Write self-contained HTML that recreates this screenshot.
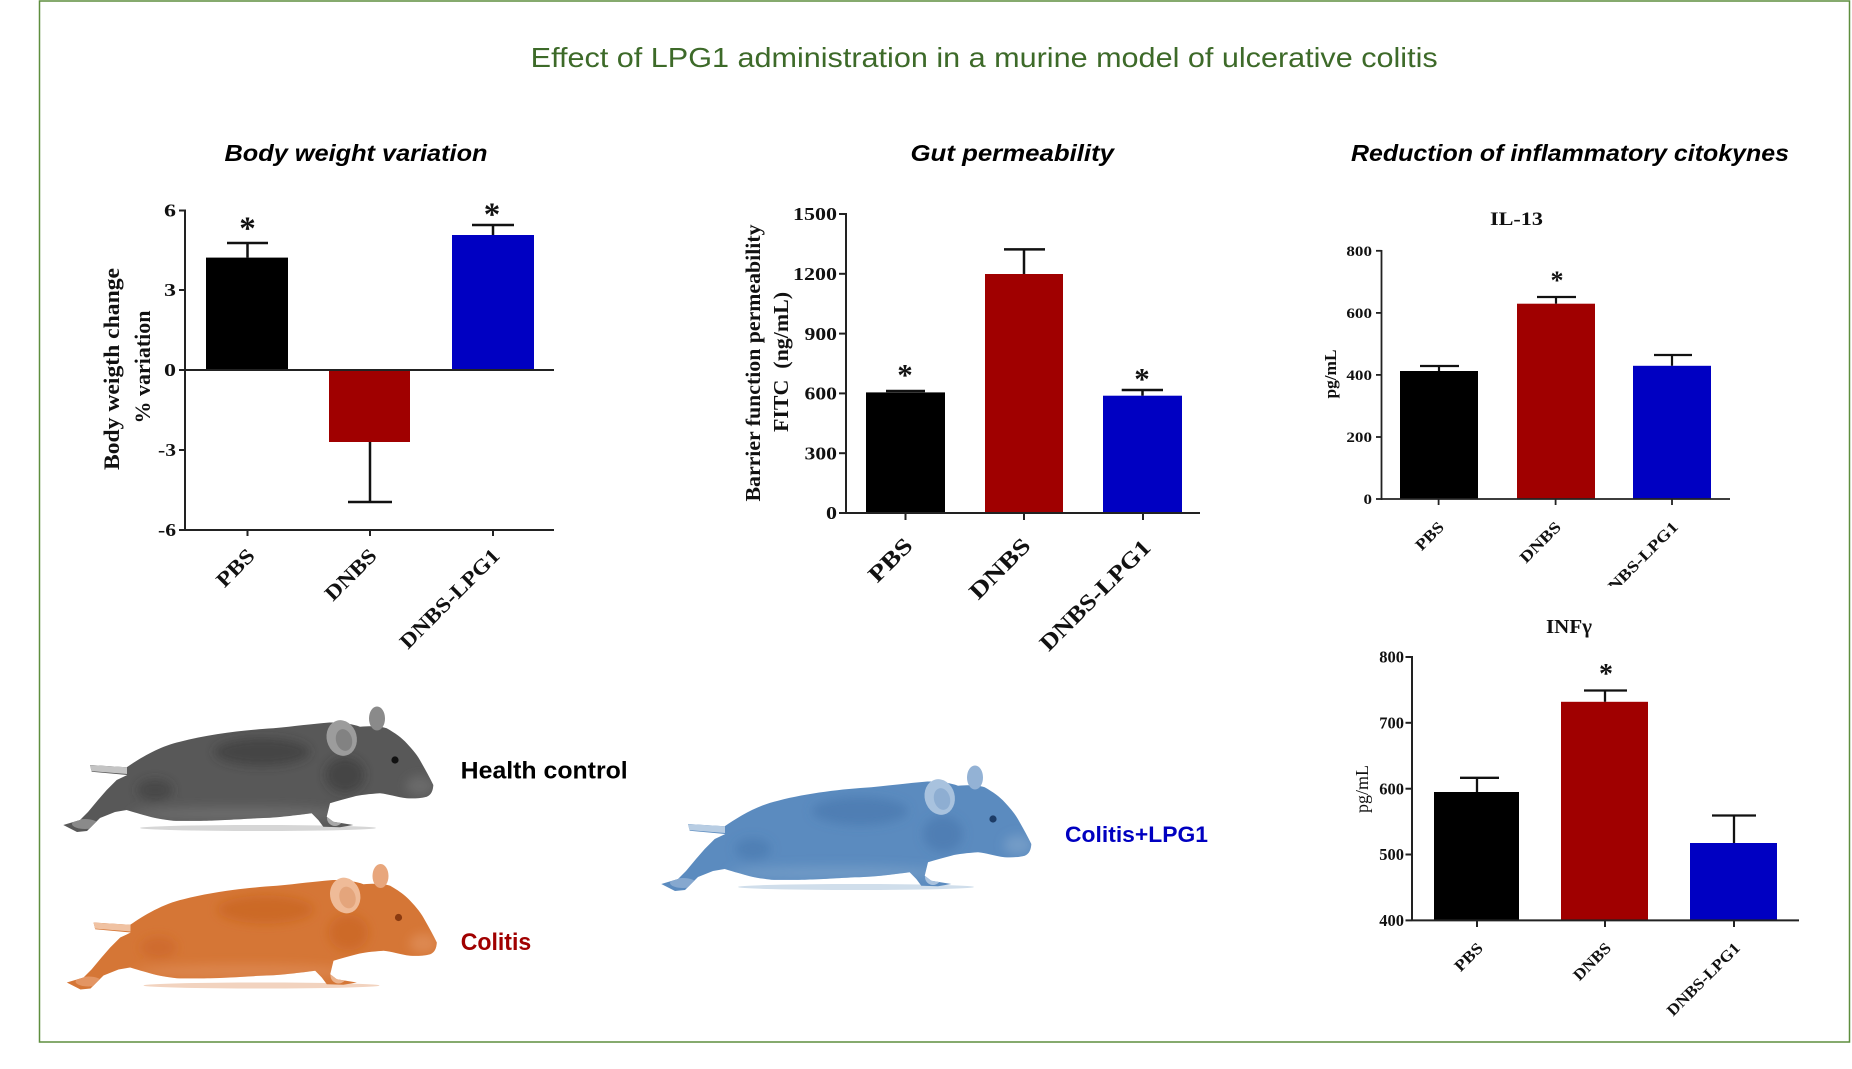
<!DOCTYPE html>
<html><head><meta charset="utf-8"><style>
html,body{margin:0;padding:0;background:#fff;}
svg{display:block;}
.ser{font-family:"Liberation Serif","Times New Roman",serif;font-weight:bold;}
.sans{font-family:"Liberation Sans",Arial,sans-serif;}
</style></head><body>
<svg width="1852" height="1069" viewBox="0 0 1852 1069" xmlns="http://www.w3.org/2000/svg">
<defs>
<path id="mouse" d="M90,765 L126.7,767.3 C140,758 160,746 180,741.7 C210,734 245,730 273.3,728.3 C295,726 312,724 326.7,722.7 C340,722 352,724 360,726.7 C372,726 380,726 386.7,728.3 C395,733 402,738 406.7,743.3 C413,750 418,756 421.7,763.3 C426,771 430,778 433.3,785 C433,791 431,795 426.7,796.7 C420,798.5 413,798.5 406.7,798.3 C396,797 388,794 380,793.3 C370,794 360,795 353.3,796.7 C345,799 337,801 330,803.3 L326.7,816.7 L333.3,821.7 L353.3,825 L340,827.3 L323.3,826.7 L318.3,820 L311.7,813.3 C290,816 275,818 256.7,818.3 C235,819.5 220,820.5 206.7,820.7 C190,821 180,821 173.3,820.7 C162,819.5 155,818 150,816.7 C140,814 133,812 126.7,810 L115,812 L100,818 L92,826 L87,831 L77,832 L63.3,825 L80,820 L88,812 L98,800 L106.7,790 L116.7,780 L127.3,775 L91.7,771.7 Z"/>
<clipPath id="mclip" clipPathUnits="userSpaceOnUse"><use href="#mouse"/></clipPath>
<clipPath id="il13clip" clipPathUnits="userSpaceOnUse"><rect x="1300" y="500" width="500" height="86"/></clipPath>
<filter id="soft" x="-20%" y="-20%" width="140%" height="140%"><feGaussianBlur stdDeviation="5"/></filter>
</defs>

<rect x="0" y="0" width="1852" height="1069" fill="#fff"/>
<rect x="39.5" y="1" width="1810" height="1041" fill="none" stroke="#5e8e3e" stroke-width="1.5"/>

<!-- Main title -->
<text class="sans" x="530.7" y="67" font-size="28" fill="#3d6a29" textLength="907" lengthAdjust="spacingAndGlyphs">Effect of LPG1 administration in a murine model of ulcerative colitis</text>

<!-- Section titles -->
<g class="sans" font-weight="bold" font-style="italic" font-size="23" fill="#000">
<text x="224.5" y="161" textLength="263" lengthAdjust="spacingAndGlyphs">Body weight variation</text>
<text x="910.5" y="161" textLength="203.5" lengthAdjust="spacingAndGlyphs">Gut permeability</text>
<text x="1351" y="161" textLength="438" lengthAdjust="spacingAndGlyphs">Reduction of inflammatory citokynes</text>
</g>

<!-- ============ Chart 1: Body weight ============ -->
<g>
<rect x="206" y="257.6" width="82" height="112.4" fill="#000"/>
<rect x="329" y="370" width="81" height="72" fill="#a00000"/>
<rect x="452" y="235" width="82" height="135" fill="#0000c2"/>
<g stroke="#111" stroke-width="2.5" fill="none">
<line x1="247.5" y1="257.6" x2="247.5" y2="243"/><line x1="227" y1="243" x2="268" y2="243"/>
<line x1="370" y1="442" x2="370" y2="502"/><line x1="348" y1="502" x2="392" y2="502"/>
<line x1="493" y1="235" x2="493" y2="225"/><line x1="472" y1="225" x2="514" y2="225"/>
</g>
<g stroke="#222" stroke-width="2" fill="none">
<line x1="185" y1="209.5" x2="185" y2="531"/>
<line x1="179" y1="210.5" x2="185" y2="210.5"/><line x1="179" y1="290" x2="185" y2="290"/>
<line x1="179" y1="370" x2="185" y2="370"/><line x1="179" y1="450" x2="185" y2="450"/>
<line x1="179" y1="530" x2="185" y2="530"/>
<line x1="185" y1="370" x2="554" y2="370"/>
<line x1="185" y1="530" x2="554" y2="530"/>
<line x1="247.5" y1="530" x2="247.5" y2="536"/><line x1="370" y1="530" x2="370" y2="536"/><line x1="493" y1="530" x2="493" y2="536"/>
</g>
<g class="ser" font-size="18" fill="#111" text-anchor="end">
<text x="176" y="216.7" textLength="12" lengthAdjust="spacingAndGlyphs">6</text>
<text x="176" y="296.2" textLength="12" lengthAdjust="spacingAndGlyphs">3</text>
<text x="176" y="376.2" textLength="12" lengthAdjust="spacingAndGlyphs">0</text>
<text x="176" y="456.2" textLength="18" lengthAdjust="spacingAndGlyphs">-3</text>
<text x="176" y="536" textLength="18" lengthAdjust="spacingAndGlyphs">-6</text>
</g>
<g class="ser" font-size="33" fill="#111" text-anchor="middle">
<text x="247.5" y="239">*</text>
<text x="492" y="225">*</text>
</g>
<g class="ser" font-size="22" fill="#111" text-anchor="middle">
<text transform="translate(119,369) rotate(-90)" textLength="202" lengthAdjust="spacingAndGlyphs">Body weigth change</text>
<text transform="translate(150,367) rotate(-90)" textLength="113" lengthAdjust="spacingAndGlyphs">% variation</text>
</g>
<g class="ser" font-size="21" fill="#111" text-anchor="end">
<text transform="translate(256,557) rotate(-45)" textLength="44.5" lengthAdjust="spacingAndGlyphs">PBS</text>
<text transform="translate(378,557) rotate(-45)" textLength="63.6" lengthAdjust="spacingAndGlyphs">DNBS</text>
<text transform="translate(501,557) rotate(-45)" textLength="131.5" lengthAdjust="spacingAndGlyphs">DNBS-LPG1</text>
</g>
</g>

<!-- ============ Chart 2: Gut permeability ============ -->
<g>
<rect x="866" y="392.4" width="79" height="120.6" fill="#000"/>
<rect x="985" y="274" width="78" height="239" fill="#a00000"/>
<rect x="1103" y="395.7" width="79" height="117.3" fill="#0000c2"/>
<g stroke="#111" stroke-width="2.5" fill="none">
<line x1="886" y1="391" x2="925" y2="391"/>
<line x1="1024" y1="274" x2="1024" y2="249.4"/><line x1="1004" y1="249.4" x2="1045" y2="249.4"/>
<line x1="1142.5" y1="395.7" x2="1142.5" y2="390"/><line x1="1121.7" y1="390" x2="1163" y2="390"/>
</g>
<g stroke="#222" stroke-width="2" fill="none">
<line x1="846" y1="213" x2="846" y2="514"/>
<line x1="839" y1="214" x2="846" y2="214"/><line x1="839" y1="273.8" x2="846" y2="273.8"/>
<line x1="839" y1="333.6" x2="846" y2="333.6"/><line x1="839" y1="393.4" x2="846" y2="393.4"/>
<line x1="839" y1="453.2" x2="846" y2="453.2"/><line x1="839" y1="513" x2="846" y2="513"/>
<line x1="846" y1="513" x2="1200" y2="513"/>
<line x1="905.5" y1="513" x2="905.5" y2="520"/><line x1="1024" y1="513" x2="1024" y2="520"/><line x1="1143" y1="513" x2="1143" y2="520"/>
</g>
<g class="ser" font-size="18" fill="#111" text-anchor="end">
<text x="837" y="220.2" textLength="44" lengthAdjust="spacingAndGlyphs">1500</text>
<text x="837" y="280" textLength="44" lengthAdjust="spacingAndGlyphs">1200</text>
<text x="837" y="339.8" textLength="32.5" lengthAdjust="spacingAndGlyphs">900</text>
<text x="837" y="399.6" textLength="32.5" lengthAdjust="spacingAndGlyphs">600</text>
<text x="837" y="459.4" textLength="32.5" lengthAdjust="spacingAndGlyphs">300</text>
<text x="837" y="519.2" textLength="11" lengthAdjust="spacingAndGlyphs">0</text>
</g>
<g class="ser" font-size="31" fill="#111" text-anchor="middle">
<text x="905" y="385">*</text>
<text x="1142" y="389">*</text>
</g>
<g class="ser" font-size="21" fill="#111" text-anchor="middle">
<text transform="translate(760,363) rotate(-90)" textLength="277" lengthAdjust="spacingAndGlyphs">Barrier function permeability</text>
<text transform="translate(788,362) rotate(-90)" textLength="140" lengthAdjust="spacingAndGlyphs">FITC&#160;&#160;(ng/mL)</text>
</g>
<g class="ser" font-size="23" fill="#111" text-anchor="end">
<text transform="translate(914,547) rotate(-45)" textLength="52" lengthAdjust="spacingAndGlyphs">PBS</text>
<text transform="translate(1032,547) rotate(-45)" textLength="76" lengthAdjust="spacingAndGlyphs">DNBS</text>
<text transform="translate(1152,549) rotate(-45)" textLength="146" lengthAdjust="spacingAndGlyphs">DNBS-LPG1</text>
</g>
</g>

<!-- ============ Chart 3: IL-13 ============ -->
<g>
<text class="ser" x="1516.5" y="225" font-size="19" fill="#111" text-anchor="middle" textLength="53" lengthAdjust="spacingAndGlyphs">IL-13</text>
<rect x="1400" y="371" width="78" height="128" fill="#000"/>
<rect x="1517" y="303.7" width="78" height="195.3" fill="#a00000"/>
<rect x="1633" y="365.8" width="78" height="133.2" fill="#0000c2"/>
<g stroke="#111" stroke-width="2.2" fill="none">
<line x1="1439" y1="371" x2="1439" y2="366"/><line x1="1420" y1="366" x2="1459" y2="366"/>
<line x1="1556" y1="303.7" x2="1556" y2="297"/><line x1="1537" y1="297" x2="1576" y2="297"/>
<line x1="1672" y1="365.8" x2="1672" y2="355"/><line x1="1654" y1="355" x2="1692" y2="355"/>
</g>
<g stroke="#222" stroke-width="1.8" fill="none">
<line x1="1381.5" y1="250" x2="1381.5" y2="500"/>
<line x1="1376" y1="250.8" x2="1381.5" y2="250.8"/><line x1="1376" y1="312.9" x2="1381.5" y2="312.9"/>
<line x1="1376" y1="374.9" x2="1381.5" y2="374.9"/><line x1="1376" y1="437" x2="1381.5" y2="437"/>
<line x1="1376" y1="499" x2="1381.5" y2="499"/>
<line x1="1381.5" y1="499" x2="1730" y2="499"/>
<line x1="1438.6" y1="499" x2="1438.6" y2="505"/><line x1="1555.6" y1="499" x2="1555.6" y2="505"/><line x1="1672" y1="499" x2="1672" y2="505"/>
</g>
<g class="ser" font-size="14.5" fill="#111" text-anchor="end">
<text x="1372" y="255.8" textLength="25.6" lengthAdjust="spacingAndGlyphs">800</text>
<text x="1372" y="317.9" textLength="25.6" lengthAdjust="spacingAndGlyphs">600</text>
<text x="1372" y="379.9" textLength="25.6" lengthAdjust="spacingAndGlyphs">400</text>
<text x="1372" y="442" textLength="25.6" lengthAdjust="spacingAndGlyphs">200</text>
<text x="1372" y="504" textLength="8.5" lengthAdjust="spacingAndGlyphs">0</text>
</g>
<text class="ser" x="1557" y="289" font-size="26" fill="#111" text-anchor="middle">*</text>
<text class="ser" transform="translate(1336,374) rotate(-90)" font-size="17" fill="#111" text-anchor="middle" textLength="49" lengthAdjust="spacingAndGlyphs">pg/mL</text>
<g class="ser" font-size="16" fill="#111" text-anchor="end" clip-path="url(#il13clip)">
<text transform="translate(1445,528) rotate(-45)" textLength="33" lengthAdjust="spacingAndGlyphs">PBS</text>
<text transform="translate(1562,528) rotate(-45)" textLength="51" lengthAdjust="spacingAndGlyphs">DNBS</text>
<text transform="translate(1679,528) rotate(-45)" textLength="105" lengthAdjust="spacingAndGlyphs">DNBS-LPG1</text>
</g>
</g>

<!-- ============ Chart 4: INFγ ============ -->
<g>
<text class="ser" x="1569" y="633" font-size="20" fill="#111" text-anchor="middle" textLength="46" lengthAdjust="spacingAndGlyphs">INFγ</text>
<rect x="1434" y="792" width="85" height="128.4" fill="#000"/>
<rect x="1561" y="701.8" width="87" height="218.6" fill="#a00000"/>
<rect x="1690" y="843" width="87" height="77.4" fill="#0000c2"/>
<g stroke="#111" stroke-width="2.3" fill="none">
<line x1="1477" y1="792" x2="1477" y2="777.8"/><line x1="1460" y1="777.8" x2="1499" y2="777.8"/>
<line x1="1605" y1="701.8" x2="1605" y2="690.5"/><line x1="1584" y1="690.5" x2="1627" y2="690.5"/>
<line x1="1734" y1="843" x2="1734" y2="815.5"/><line x1="1712" y1="815.5" x2="1756" y2="815.5"/>
</g>
<g stroke="#222" stroke-width="2" fill="none">
<line x1="1412" y1="656" x2="1412" y2="921"/>
<line x1="1405.5" y1="657" x2="1412" y2="657"/><line x1="1405.5" y1="722.8" x2="1412" y2="722.8"/>
<line x1="1405.5" y1="788.7" x2="1412" y2="788.7"/><line x1="1405.5" y1="854.5" x2="1412" y2="854.5"/>
<line x1="1405.5" y1="920.4" x2="1412" y2="920.4"/>
<line x1="1412" y1="920.4" x2="1799" y2="920.4"/>
<line x1="1477" y1="920.4" x2="1477" y2="927"/><line x1="1605" y1="920.4" x2="1605" y2="927"/><line x1="1734" y1="920.4" x2="1734" y2="927"/>
</g>
<g class="ser" font-size="16.5" fill="#111" text-anchor="end">
<text x="1404" y="662.6">800</text>
<text x="1404" y="728.4">700</text>
<text x="1404" y="794.3">600</text>
<text x="1404" y="860.1">500</text>
<text x="1404" y="926">400</text>
</g>
<text class="ser" x="1606" y="683" font-size="28" fill="#111" text-anchor="middle">*</text>
<text transform="translate(1368,789) rotate(-90)" font-family="Liberation Serif, serif" font-size="18" fill="#111" text-anchor="middle" textLength="48" lengthAdjust="spacingAndGlyphs">pg/mL</text>
<g class="ser" font-size="16" fill="#111" text-anchor="end">
<text transform="translate(1484,949) rotate(-45)" textLength="33" lengthAdjust="spacingAndGlyphs">PBS</text>
<text transform="translate(1612,949) rotate(-45)" textLength="46" lengthAdjust="spacingAndGlyphs">DNBS</text>
<text transform="translate(1741,949) rotate(-45)" textLength="96" lengthAdjust="spacingAndGlyphs">DNBS-LPG1</text>
</g>
</g>

<!-- ============ Mice ============ -->
<!-- Gray mouse -->
<g>
<ellipse cx="258" cy="828" rx="118" ry="3" fill="#d6d6d6"/>
<use href="#mouse" fill="#585858"/>
<g clip-path="url(#mclip)">
<g filter="url(#soft)">
<ellipse cx="262" cy="752" rx="48" ry="14" fill="#363636" opacity="0.55"/>
<ellipse cx="345" cy="775" rx="20" ry="18" fill="#333" opacity="0.5"/>
<ellipse cx="155" cy="790" rx="18" ry="11" fill="#363636" opacity="0.5"/>
<ellipse cx="240" cy="814" rx="110" ry="7" fill="#808080" opacity="0.5"/>
<ellipse cx="420" cy="786" rx="14" ry="10" fill="#777" opacity="0.6"/>
</g>
<polygon points="88,765 127,767 127,774 90,771" fill="#c4c4c4"/>
<ellipse cx="335" cy="818" rx="8" ry="8" fill="#a8a8a8"/>
<ellipse cx="85" cy="824" rx="13" ry="5" fill="#8a8a8a"/>
</g>
<ellipse cx="341.7" cy="738" rx="15" ry="18" fill="#9c9c9c" transform="rotate(-15 341.7 738)"/>
<ellipse cx="344" cy="740" rx="8" ry="11" fill="#828282" transform="rotate(-15 344 740)"/>
<ellipse cx="377" cy="718.5" rx="8" ry="12" fill="#8a8a8a"/>
<circle cx="395" cy="760" r="3.6" fill="#111"/>
</g>

<!-- Orange mouse -->
<g transform="translate(3.5,157.5)">
<ellipse cx="258" cy="828" rx="118" ry="3" fill="#f2d3bf"/>
<use href="#mouse" fill="#d57636"/>
<g clip-path="url(#mclip)">
<g filter="url(#soft)">
<ellipse cx="262" cy="752" rx="48" ry="14" fill="#c45c1c" opacity="0.5"/>
<ellipse cx="345" cy="775" rx="20" ry="18" fill="#c45a1a" opacity="0.45"/>
<ellipse cx="155" cy="790" rx="18" ry="11" fill="#c86020" opacity="0.45"/>
<ellipse cx="240" cy="814" rx="110" ry="7" fill="#e39464" opacity="0.5"/>
<ellipse cx="420" cy="786" rx="14" ry="10" fill="#e39464" opacity="0.6"/>
</g>
<polygon points="88,765 127,767 127,774 90,771" fill="#f0c2a2"/>
<ellipse cx="335" cy="818" rx="8" ry="8" fill="#ebb28c"/>
<ellipse cx="85" cy="824" rx="13" ry="5" fill="#e39563"/>
</g>
<ellipse cx="341.7" cy="738" rx="15" ry="18" fill="#efbb98" transform="rotate(-15 341.7 738)"/>
<ellipse cx="344" cy="740" rx="8" ry="11" fill="#e4a57c" transform="rotate(-15 344 740)"/>
<ellipse cx="377" cy="718.5" rx="8" ry="12" fill="#e8a67c"/>
<circle cx="395" cy="760" r="3.6" fill="#8a3a10"/>
</g>

<!-- Blue mouse -->
<g transform="translate(598,59)">
<ellipse cx="258" cy="828" rx="118" ry="3" fill="#d0deeb"/>
<use href="#mouse" fill="#5b8bbf"/>
<g clip-path="url(#mclip)">
<g filter="url(#soft)">
<ellipse cx="262" cy="752" rx="48" ry="14" fill="#3f70a8" opacity="0.5"/>
<ellipse cx="345" cy="775" rx="20" ry="18" fill="#3d6ea6" opacity="0.45"/>
<ellipse cx="155" cy="790" rx="18" ry="11" fill="#4171a8" opacity="0.45"/>
<ellipse cx="240" cy="814" rx="110" ry="7" fill="#84a7cd" opacity="0.5"/>
<ellipse cx="420" cy="786" rx="14" ry="10" fill="#84a7cd" opacity="0.6"/>
</g>
<polygon points="88,765 127,767 127,774 90,771" fill="#b8cde3"/>
<ellipse cx="335" cy="818" rx="8" ry="8" fill="#a9c2de"/>
<ellipse cx="85" cy="824" rx="13" ry="5" fill="#86a8cf"/>
</g>
<ellipse cx="341.7" cy="738" rx="15" ry="18" fill="#a8c2de" transform="rotate(-15 341.7 738)"/>
<ellipse cx="344" cy="740" rx="8" ry="11" fill="#8eaed2" transform="rotate(-15 344 740)"/>
<ellipse cx="377" cy="718.5" rx="8" ry="12" fill="#93b2d5"/>
<circle cx="395" cy="760" r="3.6" fill="#1d3c66"/>
</g>

<!-- Mouse labels -->
<g class="sans" font-weight="bold">
<text x="460.7" y="778.3" font-size="24" fill="#000" textLength="167" lengthAdjust="spacingAndGlyphs">Health control</text>
<text x="460.7" y="950" font-size="24" fill="#a00000" textLength="70.5" lengthAdjust="spacingAndGlyphs">Colitis</text>
<text x="1065" y="842" font-size="22" fill="#0000c0" textLength="143" lengthAdjust="spacingAndGlyphs">Colitis+LPG1</text>
</g>
</svg>
</body></html>
